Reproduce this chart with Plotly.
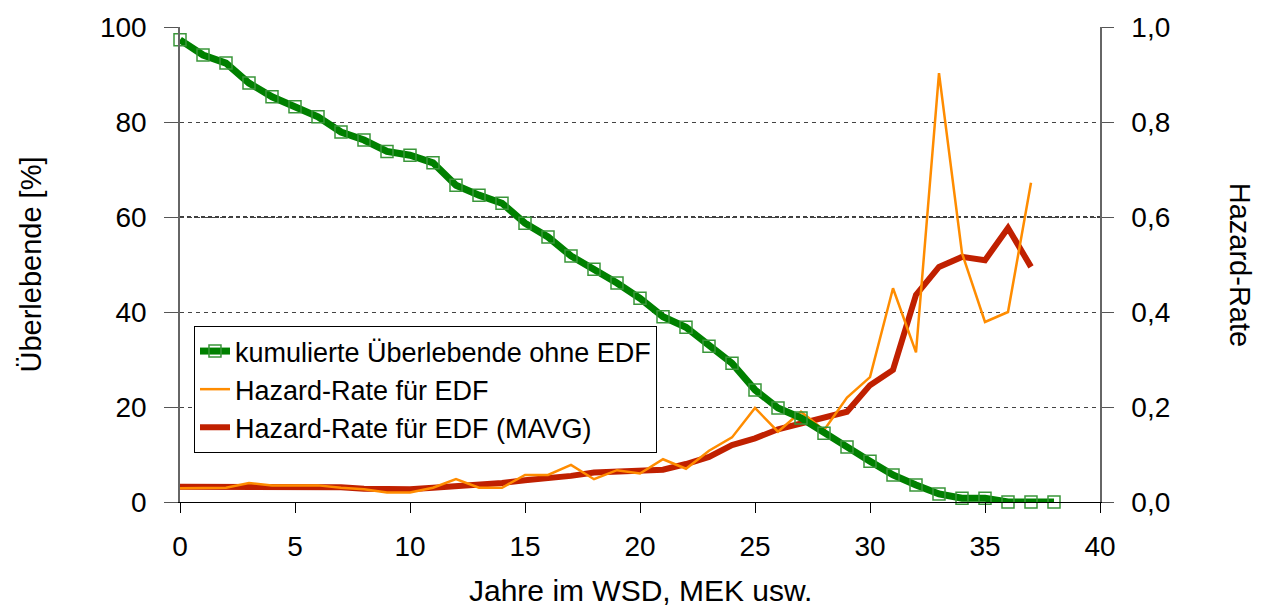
import plotly.graph_objects as go

# ---- data ----
years_surv = list(range(0, 39))
survivors = [97.3, 94.1, 92.4, 88.2, 85.3, 83.2, 81.1, 77.9, 76.2, 73.8,
             73.0, 71.4, 66.7, 64.6, 62.9, 58.7, 55.8, 51.8, 49.0, 46.1,
             42.9, 39.0, 36.8, 32.8, 29.2, 23.6, 19.8, 17.7, 14.5, 11.6,
             8.6, 5.7, 3.6, 1.7, 0.8, 0.8, 0.0, 0.0, 0.0]

years_haz = list(range(0, 38))
hazard = [0.029, 0.030, 0.030, 0.040, 0.035, 0.035, 0.035, 0.030, 0.027, 0.020,
          0.020, 0.030, 0.048, 0.030, 0.030, 0.057, 0.057, 0.078, 0.048, 0.067,
          0.060, 0.090, 0.070, 0.108, 0.136, 0.198, 0.148, 0.190, 0.151, 0.220,
          0.263, 0.450, 0.315, 0.903, 0.524, 0.379, 0.400, 0.672]
hazard_mavg = [0.032, 0.032, 0.032, 0.033, 0.033, 0.033, 0.033, 0.031, 0.028, 0.027,
               0.027, 0.030, 0.033, 0.035, 0.040, 0.046, 0.050, 0.055, 0.062, 0.065,
               0.066, 0.068, 0.080, 0.095, 0.120, 0.134, 0.153, 0.165, 0.178, 0.190,
               0.246, 0.278, 0.436, 0.495, 0.516, 0.509, 0.577, 0.495]

x_ticks = [0, 5, 10, 15, 20, 25, 30, 35, 40]
left_ticks = [0, 20, 40, 60, 80, 100]
right_ticks = [0.0, 0.2, 0.4, 0.6, 0.8, 1.0]

names = ["kumulierte Überlebende ohne EDF", "Hazard-Rate für EDF", "Hazard-Rate für EDF (MAVG)"]

FONT = "Liberation Sans, Arial, sans-serif"
TICK = 28

fig = go.Figure()
fig.add_trace(go.Scatter(
    x=years_haz, y=hazard_mavg, name=names[2], mode="lines",
    line=dict(color="#c02000", width=6), yaxis="y", legendrank=3))
fig.add_trace(go.Scatter(
    x=years_haz, y=hazard, name=names[1], mode="lines",
    line=dict(color="#ff8c00", width=2.5), yaxis="y", legendrank=2))
fig.add_trace(go.Scatter(
    x=years_surv, y=survivors, name=names[0], mode="lines+markers",
    line=dict(color="#008000", width=7),
    marker=dict(symbol="square-open", size=12, color="#3a963a", line=dict(width=1.5)),
    yaxis="y2", cliponaxis=False, legendrank=1))

fig.add_shape(type="line", xref="paper", x0=0, x1=1, yref="y2", y0=60, y1=60,
              line=dict(color="#000000", width=1.6, dash="4px,3px"), layer="below")

fig.update_layout(
    width=1264, height=609,
    margin=dict(l=172, r=172, t=19, b=115, autoexpand=False),
    paper_bgcolor="white", plot_bgcolor="white",
    separators=",.",
    font=dict(family=FONT, size=TICK, color="#000"),
    showlegend=True,
    legend=dict(x=0.0152, y=0.3705, xanchor="left", yanchor="top",
                bgcolor="white", bordercolor="#000", borderwidth=1,
                font=dict(size=27), itemwidth=30, tracegroupgap=0),
    xaxis=dict(range=[0, 40], tickvals=x_ticks, ticks="outside", ticklen=10,
               tickcolor="#000", showline=True, linecolor="#000", linewidth=1.2,
               showgrid=False, zeroline=False, tickfont=dict(size=TICK),
               ticklabelstandoff=9, automargin=False),
    yaxis=dict(range=[0, 1], side="right", tickvals=right_ticks, tickformat=".1f",
               ticks="outside", ticklen=12, tickcolor="#555",
               showline=True, linecolor="#666", linewidth=1.5,
               showgrid=True, gridcolor="#444", gridwidth=1, griddash="4px,4px",
               zeroline=False, tickfont=dict(size=TICK), ticklabelstandoff=12,
               automargin=False),
    yaxis2=dict(range=[0, 100], side="left", overlaying="y", tickvals=left_ticks,
                ticks="outside", ticklen=14, tickcolor="#555",
                showline=True, linecolor="#666", linewidth=1.5,
                showgrid=False, zeroline=False, tickfont=dict(size=TICK),
                ticklabelstandoff=12, automargin=False),
    annotations=[
        dict(text="Überlebende [%]", xref="paper", yref="paper", x=-0.163, y=0.5,
             textangle=-90, showarrow=False, font=dict(size=29),
             xanchor="center", yanchor="middle"),
        dict(text="Hazard-Rate", xref="paper", yref="paper", x=1.153, y=0.5,
             textangle=90, showarrow=False, font=dict(size=29),
             xanchor="center", yanchor="middle"),
        dict(text="Jahre im WSD, MEK usw.", xref="paper", yref="paper", x=0.5, y=-0.186,
             showarrow=False, font=dict(size=30), xanchor="center", yanchor="middle"),
    ],
)

fig.write_html("out.html")
